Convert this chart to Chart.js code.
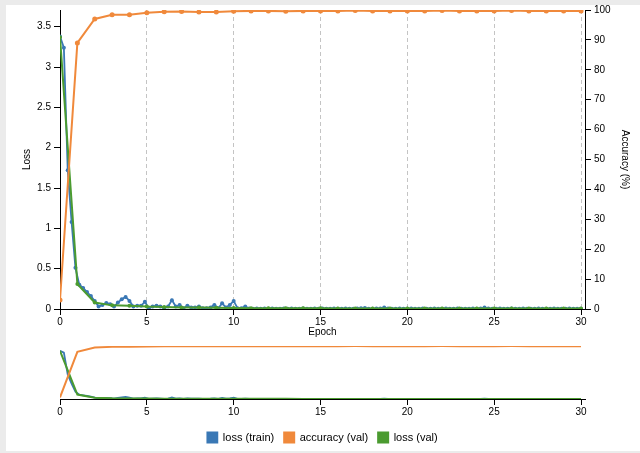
<!DOCTYPE html>
<html>
<head>
<meta charset="utf-8">
<script src="https://cdn.jsdelivr.net/npm/chart.js@4.4.1/dist/chart.umd.min.js"></script>
<style>
  body { margin:0; background:#ebebeb; width:640px; height:453px; overflow:hidden; position:relative; }
  #sheet { position:absolute; left:6px; top:5px; width:634px; height:446px; background:#fff; }
  canvas { position:absolute; left:0; }
  #main { top:0; }
  #overview { top:340px; }
</style>
</head>
<body>
<div id="sheet"></div>
<canvas id="main" width="640" height="345"></canvas>
<canvas id="overview" width="640" height="113"></canvas>
<script>
// validation is logged once per epoch, training loss about 4.5 times per epoch
const EPOCHS = [0,1,2,3,4,5,6,7,8,9,10,11,12,13,14,15,16,17,18,19,20,21,22,23,24,25,26,27,28,29,30];
const TRAIN_PER_EPOCH = 4.5;

const lossTrain = [
  3.38, 3.24, 1.72, 1.08, 0.51, 0.30, 0.26, 0.21, 0.16, 0.10,
  0.03, 0.05, 0.075, 0.06, 0.03, 0.08, 0.12, 0.15, 0.10, 0.03,
  0.04, 0.04, 0.09, 0.01, 0.03, 0.04, 0.03, 0.01, 0.03, 0.11,
  0.03, 0.05, 0.01, 0.04, 0.02, 0.02, 0.03, 0.01, 0.01, 0.02,
  0.05, 0.01, 0.07, 0.02, 0.05, 0.10, 0.01, 0.01, 0.03, 0.005,
  0.004, 0.006, 0.003, 0.005, 0.004, 0.007, 0.003, 0.004, 0.006, 0.003,
  0.005, 0.004, 0.003, 0.006, 0.004, 0.003, 0.005, 0.004, 0.006, 0.003,
  0.004, 0.005, 0.003, 0.004, 0.006, 0.004, 0.003, 0.005, 0.008, 0.012,
  0.004, 0.003, 0.005, 0.006, 0.02, 0.005, 0.003, 0.004, 0.005, 0.003,
  0.004, 0.006, 0.003, 0.004, 0.005, 0.003, 0.004, 0.005, 0.003, 0.004,
  0.006, 0.003, 0.004, 0.005, 0.003, 0.004, 0.003, 0.005, 0.004, 0.006,
  0.018, 0.005, 0.003, 0.004, 0.005, 0.003, 0.004, 0.006, 0.003, 0.004,
  0.005, 0.003, 0.004, 0.003, 0.005, 0.004, 0.003, 0.004, 0.005, 0.003,
  0.004, 0.003, 0.005, 0.004, 0.003, 0.004
];
const accVal = [
  3, 89, 97, 98.4, 98.4, 99.1, 99.4, 99.5, 99.3, 99.3,
  99.6, 99.7, 99.7, 99.6, 99.7, 99.7, 99.7, 99.8, 99.7, 99.7,
  99.7, 99.7, 99.8, 99.7, 99.7, 99.7, 99.8, 99.7, 99.7, 99.7, 99.7
];
const lossVal = [
  3.37, 0.31, 0.08, 0.045, 0.04, 0.03, 0.025, 0.02, 0.02, 0.015,
  0.012, 0.01, 0.01, 0.009, 0.008, 0.008, 0.007, 0.007, 0.007, 0.006,
  0.006, 0.006, 0.006, 0.005, 0.005, 0.005, 0.005, 0.005, 0.005, 0.005, 0.005
];

const X_TICKS = [0, 5, 10, 15, 20, 25, 30];
const LOSS_TICKS = [0, 0.5, 1, 1.5, 2, 2.5, 3, 3.5];
const LOSS_MAX = 3.707;   // 1.1 x the first loss value
const X_MAX = 30.23;      // leaves a small gap before the right axis

const BLUE = '#3a78b5', ORANGE = '#f0893b', GREEN = '#4b9b30';

Chart.defaults.font.family = '"Liberation Sans", Arial, sans-serif';
Chart.defaults.font.size = 10;
Chart.defaults.color = '#000';
Chart.defaults.animation = false;

function series(withPoints){
  const r = withPoints ? 2 : 0;
  return [
    { label:'loss (train)', yAxisID:'yLoss', order:3, borderColor:BLUE, backgroundColor:BLUE, borderWidth:1.8,
      pointRadius:r, pointBorderWidth:0, data: lossTrain.map((v, i) => ({ x: i / TRAIN_PER_EPOCH, y: v })) },
    { label:'accuracy (val)', yAxisID:'yAcc', order:1, borderColor:ORANGE, backgroundColor:ORANGE, borderWidth:2,
      pointRadius: withPoints ? 2.5 : 0, pointBorderWidth:0, data: EPOCHS.map((e, i) => ({ x: e, y: accVal[i] })) },
    { label:'loss (val)', yAxisID:'yLoss', order:2, borderColor:GREEN, backgroundColor:GREEN, borderWidth:2,
      pointRadius:r, pointBorderWidth:0, data: EPOCHS.map((e, i) => ({ x: e, y: lossVal[i] })) }
  ];
}

function xAxis(height, grid, title){
  return {
    type:'linear', min:0, max:X_MAX,
    afterBuildTicks: s => { s.ticks = X_TICKS.map(v => ({ value: v })); },
    afterFit: s => { s.height = height; },
    ticks: { padding:1, maxRotation:0, callback: v => String(v) },
    grid: { display:true, drawOnChartArea:grid, color:'#c4c4c4', tickColor:'#000', tickLength:6 },
    border: { color:'#000', dash:[4, 3] },
    title: title ? { display:true, text:'Epoch', padding:{ top:0, bottom:7 } } : { display:false }
  };
}

new Chart(document.getElementById('main'), {
  type:'line',
  data: { datasets: series(true) },
  options: {
    responsive:false, devicePixelRatio:1,
    layout: { padding:{ top:10, left:0, right:0, bottom:0 } },
    plugins: { legend:{ display:false }, tooltip:{ enabled:false } },
    scales: {
      x: xAxis(36, true, true),
      yLoss: {
        position:'left', min:0, max:LOSS_MAX,
        afterBuildTicks: s => { s.ticks = LOSS_TICKS.map(v => ({ value: v })); },
        afterFit: s => { s.width = 60; },
        ticks: { padding:3, callback: v => String(v) },
        grid: { drawOnChartArea:false, tickColor:'#000', tickLength:6 },
        border: { color:'#000' },
        title: { display:true, text:'Loss', padding:{ top:21, bottom:0 } }
      },
      yAcc: {
        position:'right', min:0, max:100,
        ticks: { stepSize:10, padding:3 },
        afterFit: s => { s.width = 55; },
        grid: { drawOnChartArea:false, tickColor:'#000', tickLength:6 },
        border: { color:'#000' },
        title: { display:true, text:'Accuracy (%)', padding:{ top:9, bottom:0 } }
      }
    }
  }
});

new Chart(document.getElementById('overview'), {
  type:'line',
  data: { datasets: series(false) },
  options: {
    responsive:false, devicePixelRatio:1,
    layout: { padding:{ top:6, left:60, right:55, bottom:0 } },
    plugins: {
      legend: { display:true, position:'bottom',
        labels: { boxWidth:10, boxHeight:10, padding:10, font:{ size:11 },
          sort: (a, b) => a.datasetIndex - b.datasetIndex } },
      tooltip: { enabled:false }
    },
    scales: {
      x: xAxis(23, false, false),
      yLoss: { display:false, min:0, max:LOSS_MAX },
      yAcc: { display:false, min:0, max:100 }
    }
  }
});
</script>
</body>
</html>
